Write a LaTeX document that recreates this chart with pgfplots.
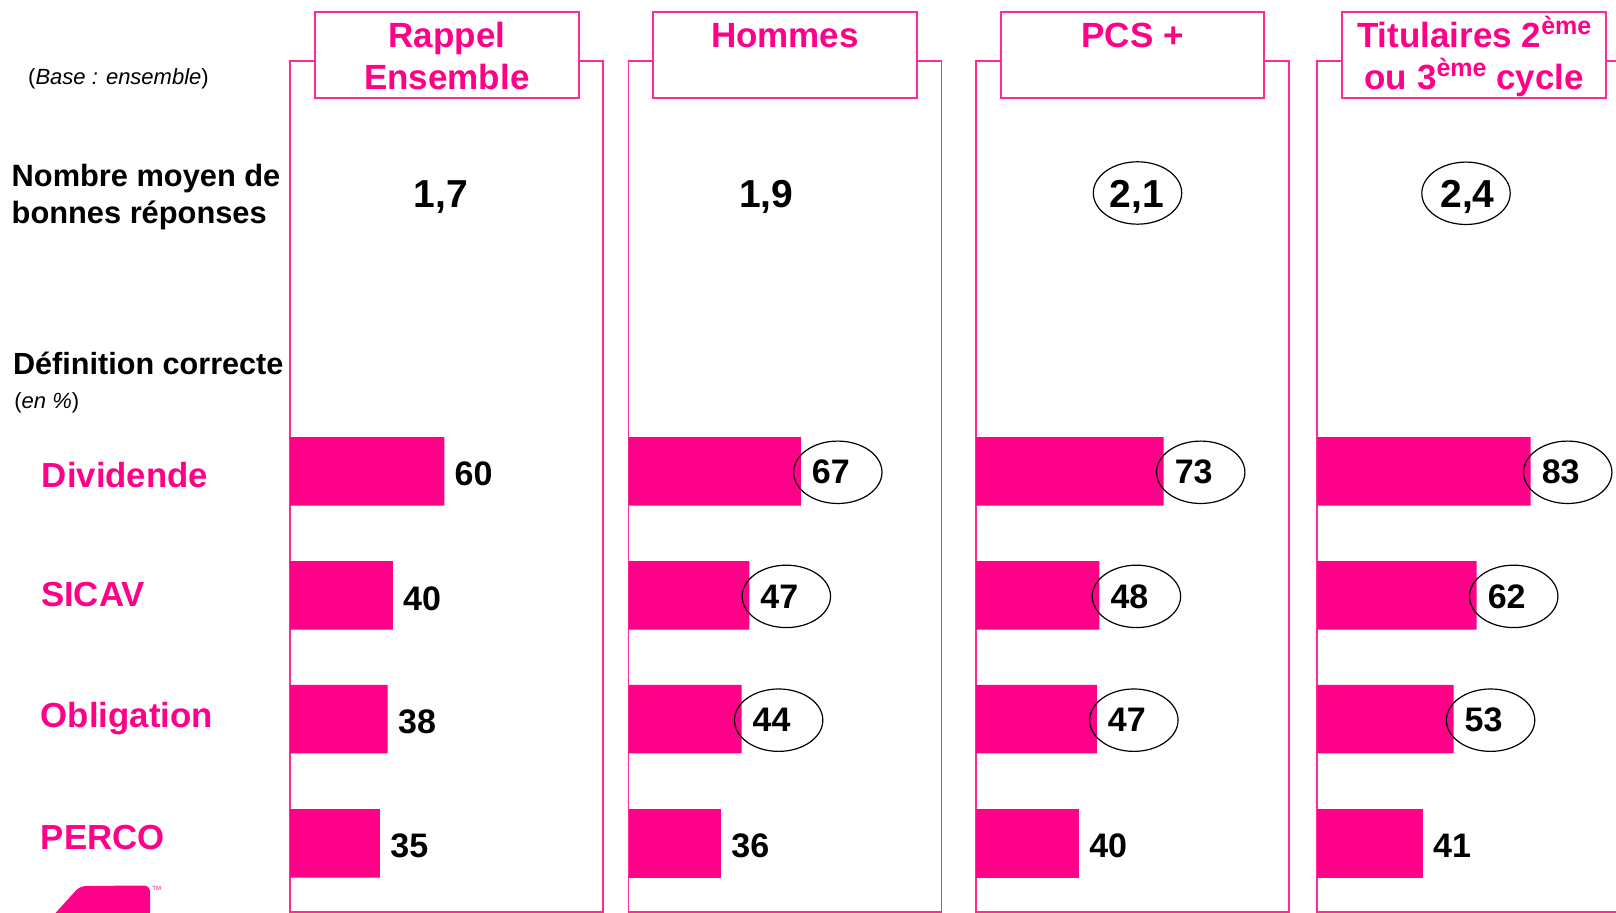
\documentclass[border=0pt]{standalone}
\usepackage{pgfplots}
\pgfplotsset{compat=1.18}
\usepackage{fontspec}
\setmainfont{Liberation Sans}
\usetikzlibrary{shapes.geometric}
\definecolor{barc}{HTML}{FF0088}
\definecolor{framec}{HTML}{FF2A96}
\newcommand{\fs}[1]{\fontsize{#1}{#1}\selectfont}
\newcommand{\sups}[1]{\raisebox{6.5pt}{\fs{12.5}#1}}
\begin{document}
\begin{tikzpicture}[x=0.5pt,y=0.5pt]
\useasboundingbox (0,0) rectangle (1616,913);
\clip (0,0) rectangle (1616,913);
\pgfplotsset{
 panel/.style={at={(#1,426pt)}, anchor=north west, width=156.5pt, height=425.35pt,
   scale only axis, xmin=0, xmax=121.74, ymin=1.3, ymax=852,
   axis line style={framec, line width=0.9pt}, xtick=\empty, ytick=\empty,
   clip=false, /pgf/number format/assume math mode=true},
 plainbar/.style={xbar, bar shift=0pt, bar width=68.5, fill=barc, draw=none,
   nodes near coords,
   nodes near coords style={font=\fs{17}\bfseries, anchor=west, xshift=5pt, yshift=-1.5pt, inner sep=0pt, text=black}},
 circbar/.style={xbar, bar shift=0pt, bar width=68.5, fill=barc, draw=none,
   nodes near coords={\pgfmathprintnumber{\pgfplotspointmeta}\kern7pt},
   nodes near coords style={font=\fs{17}\bfseries, draw=black, line width=0.6pt, ellipse,
     minimum width=44.2pt, minimum height=31.2pt, inner sep=0pt, anchor=center, xshift=18.5pt, yshift=-0.5pt, text=black}},
}
% Panel 1: Rappel Ensemble
\begin{axis}[panel=145pt]
\addplot[plainbar] coordinates {(60,441.7) (40,317.6) (38,193.8) (35,69.7)};
\end{axis}
% Panel 2: Hommes
\begin{axis}[panel=314.25pt]
\addplot[circbar] coordinates {(67,441.7) (47,317.6) (44,193.8)};
\addplot[plainbar] coordinates {(36,69.7)};
\end{axis}
% Panel 3: PCS +
\begin{axis}[panel=488pt]
\addplot[circbar] coordinates {(73,441.7) (48,317.6) (47,193.8)};
\addplot[plainbar] coordinates {(40,69.7)};
\end{axis}
% Panel 4: Titulaires
\begin{axis}[panel=658.65pt]
\addplot[circbar] coordinates {(83,441.7) (62,317.6) (53,193.8)};
\addplot[plainbar] coordinates {(41,69.7)};
\end{axis}

% header boxes
\draw[framec, line width=0.9pt, fill=white] (315,814.7) rectangle (578.7,901.3);
\draw[framec, line width=0.9pt, fill=white] (653.3,814.7) rectangle (916.7,901.3);
\draw[framec, line width=0.9pt, fill=white] (1001,814.7) rectangle (1264.3,901.3);
\draw[framec, line width=0.9pt, fill=white] (1342.3,814.7) rectangle (1606,901.3);

\begin{scope}[every node/.style={anchor=base, text=barc, font=\fs{17.5}\bfseries, inner sep=0pt}]
\node at (446.9,865.5) {Rappel};
\node at (446.9,823.7) {Ensemble};
\node at (785,865.5) {Hommes};
\node at (1132.6,865.5) {PCS +};
\node at (1474.2,865.5) {Titulaires 2\sups{ème}};
\node at (1474.2,823.7) {ou 3\sups{ème} cycle};
\end{scope}

% mean values
\begin{scope}[every node/.style={anchor=base, font=\fs{19.5}\bfseries, inner sep=0pt}]
\node at (441,705) {1,7};
\node at (766.3,705) {1,9};
\node at (1136.7,705) {2,1};
\node at (1467.5,705) {2,4};
\end{scope}
\node[draw=black, line width=0.6pt, ellipse, minimum width=44.2pt, minimum height=31.2pt, inner sep=0pt] at (1137.5,720) {};
\node[draw=black, line width=0.6pt, ellipse, minimum width=44.2pt, minimum height=31.2pt, inner sep=0pt] at (1466,719.7) {};

% left labels
\begin{scope}[every node/.style={anchor=base west, inner sep=0pt}]
\node[font=\fs{11}] at (27.8,828) {(\textit{Base : ensemble})};
\node[font=\fs{15.4}\bfseries] at (11.3,726) {Nombre moyen de};
\node[font=\fs{15.4}\bfseries] at (11.3,689) {bonnes réponses};
\node[font=\fs{15.3}\bfseries] at (12.7,538) {Définition correcte};
\node[font=\fs{11}] at (14,504) {(\textit{en \%})};
\node[font=\fs{17.4}\bfseries, text=barc] at (41.5,425.3) {Dividende};
\node[font=\fs{17.4}\bfseries, text=barc] at (40.7,306.3) {SICAV};
\node[font=\fs{17.4}\bfseries, text=barc] at (40.5,185.5) {Obligation};
\node[font=\fs{17.4}\bfseries, text=barc] at (40.5,63) {PERCO};
\end{scope}

% logo fragment
\fill[barc, rounded corners=3pt] (51,-5) -- (80,27) -- (150,27.5) -- (150,-5) -- cycle;
\node[anchor=base west, inner sep=0pt, font=\fs{3}, text=barc] at (152,22) {TM};
\end{tikzpicture}
\end{document}
